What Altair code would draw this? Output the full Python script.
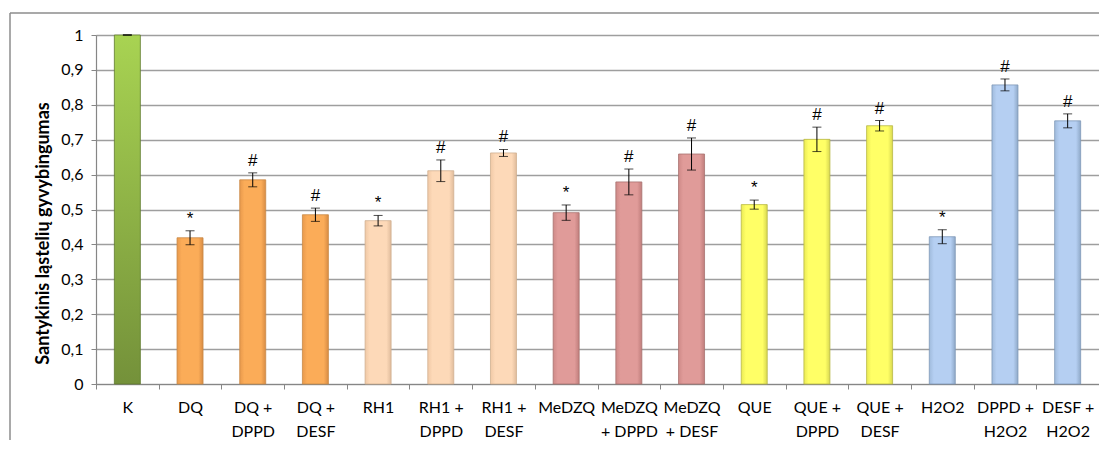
import altair as alt
import pandas as pd

categories = ["K", "DQ", "DQ +\nDPPD", "DQ +\nDESF", "RH1", "RH1 +\nDPPD", "RH1 +\nDESF",
              "MeDZQ", "MeDZQ\n+ DPPD", "MeDZQ\n+ DESF", "QUE", "QUE +\nDPPD", "QUE +\nDESF",
              "H2O2", "DPPD +\nH2O2", "DESF +\nH2O2"]
values = [1.0, 0.419, 0.585, 0.485, 0.468, 0.611, 0.662, 0.491, 0.579, 0.659,
          0.514, 0.701, 0.740, 0.422, 0.857, 0.754]
errors = [0.0, 0.020, 0.020, 0.019, 0.015, 0.031, 0.010, 0.022, 0.037, 0.046,
          0.013, 0.035, 0.015, 0.020, 0.017, 0.020]
groups = ["K", "DQ", "DQ", "DQ", "RH1", "RH1", "RH1", "MeDZQ", "MeDZQ", "MeDZQ",
          "QUE", "QUE", "QUE", "H2O2", "H2O2", "H2O2"]
marks = ["", "*", "#", "#", "*", "#", "#", "*", "#", "#", "*", "#", "#", "*", "#", "#"]

df = pd.DataFrame({"cat": categories, "v": values, "err": errors, "grp": groups, "sig": marks})

W, H = 1003, 349
FONT = "Lato"

def hgrad(edge, mid, edge2):
    return alt.Gradient(gradient="linear", x1=0, x2=1, y1=0, y2=0,
                        stops=[alt.GradientStop(offset=0, color=edge),
                               alt.GradientStop(offset=0.18, color=mid),
                               alt.GradientStop(offset=0.82, color=mid),
                               alt.GradientStop(offset=1, color=edge2)])

fills = {
    "K": alt.Gradient(gradient="linear", x1=0, x2=0, y1=0, y2=1,
                      stops=[alt.GradientStop(offset=0, color="#a8d352"),
                             alt.GradientStop(offset=1, color="#74913a")]),
    "DQ": hgrad("#e8994c", "#fbac58", "#d88c44"),
    "RH1": hgrad("#f0c9a6", "#fdd9b8", "#e0bc9c"),
    "MeDZQ": hgrad("#cf8a88", "#e09b99", "#c07e7c"),
    "QUE": hgrad("#eaea55", "#ffff66", "#d8d850"),
    "H2O2": hgrad("#a0bbdc", "#b5cff2", "#8fa9c8"),
}
strokes = {"K": "#5f7a2e", "DQ": "#c98a48", "RH1": "#d0b090", "MeDZQ": "#a87270",
           "QUE": "#b8b845", "H2O2": "#7f98b8"}

xaxis = alt.Axis(labelExpr="split(datum.label, '\\n')", labelAngle=0,
                 labelFont=FONT, labelFontSize=16, labelColor="#000000",
                 labelLineHeight=24, labelPadding=10, labelBaseline="top",
                 tickBand="extent", tickSize=5, tickColor="#868686",
                 domainColor="#868686", domainWidth=1.2, grid=False, title=None)
xscale = alt.Scale(paddingInner=0.0, paddingOuter=0.0)
yscale = alt.Scale(domain=[0, 1], nice=False)
yaxis = alt.Axis(values=[0, 0.1, 0.2, 0.3, 0.4, 0.5, 0.6, 0.7, 0.8, 0.9, 1.0],
                 labelExpr="replace(format(datum.value, '.1~f'), '.', ',')",
                 labelFont=FONT, labelFontSize=16, labelColor="#000000", labelPadding=8,
                 tickSize=5, tickColor="#868686", domainColor="#868686", domainWidth=1.2,
                 grid=True, gridColor="#9e9e9e", gridWidth=1.4,
                 title="Santykinis ląstelių gyvybingumas", titleFont=FONT, titleFontSize=18,
                 titleFontWeight="bold", titleColor="#000000", titleAngle=270,
                 titleX=-53, titleY=198, titleAlign="center", titleBaseline="middle")

def X():
    return alt.X("cat:N", sort=categories, scale=xscale, axis=xaxis)

def Y(field):
    return alt.Y(field, scale=yscale, axis=yaxis)

base = alt.Chart(df)
one = alt.Data(values=[{"a": 1}])

frame_left = alt.Chart(one).mark_rule(color="#8c8c8c", strokeWidth=1.5, clip=False).encode(
    x=alt.value(-86), y=alt.value(-22), y2=alt.value(H + 56))
frame_top = alt.Chart(one).mark_rule(color="#8c8c8c", strokeWidth=1.5, clip=False).encode(
    x=alt.value(-86), x2=alt.value(W + 40), y=alt.value(-22))

layers = []
for g in ["K", "DQ", "RH1", "MeDZQ", "QUE", "H2O2"]:
    layer = base.transform_filter(alt.datum.grp == g).mark_bar(
        size=26, color=fills[g], stroke=strokes[g], strokeWidth=0.8
    ).encode(x=X(), y=Y("v:Q"))
    layers.append(layer)

err_base = base.transform_filter(alt.datum.err > 0).transform_calculate(
    lo="datum.v - datum.err", hi="datum.v + datum.err")
rule = err_base.mark_rule(color="#000000", strokeWidth=1).encode(
    x=X(), y=Y("lo:Q"), y2="hi:Q")
cap_hi = err_base.mark_tick(color="#000000", size=9, thickness=1, orient="horizontal").encode(
    x=X(), y=Y("hi:Q"))
cap_lo = err_base.mark_tick(color="#000000", size=9, thickness=1, orient="horizontal").encode(
    x=X(), y=Y("lo:Q"))
ktick = base.transform_filter(alt.datum.grp == "K").mark_tick(
    color="#000000", size=9, thickness=2, orient="horizontal").encode(
    x=X(), y=Y("v:Q"))
sig = base.transform_filter(alt.datum.sig != "").transform_calculate(
    hi="datum.v + datum.err").mark_text(
    font="Liberation Sans", fontSize=17, color="#000000", baseline="alphabetic", dy=-7
).encode(x=X(), y=Y("hi:Q"), text="sig:N")

layers += [rule, cap_hi, cap_lo, ktick, sig, frame_left, frame_top]

chart = alt.layer(*layers).properties(
    width=W, height=H,
    autosize=alt.AutoSizeParams(type="none"),
    padding={"left": 88, "top": 27, "right": 0, "bottom": 62},
).configure_view(stroke=None).configure(background="#ffffff")

chart.save("out.html", embed_options={"renderer": "svg", "actions": False})
